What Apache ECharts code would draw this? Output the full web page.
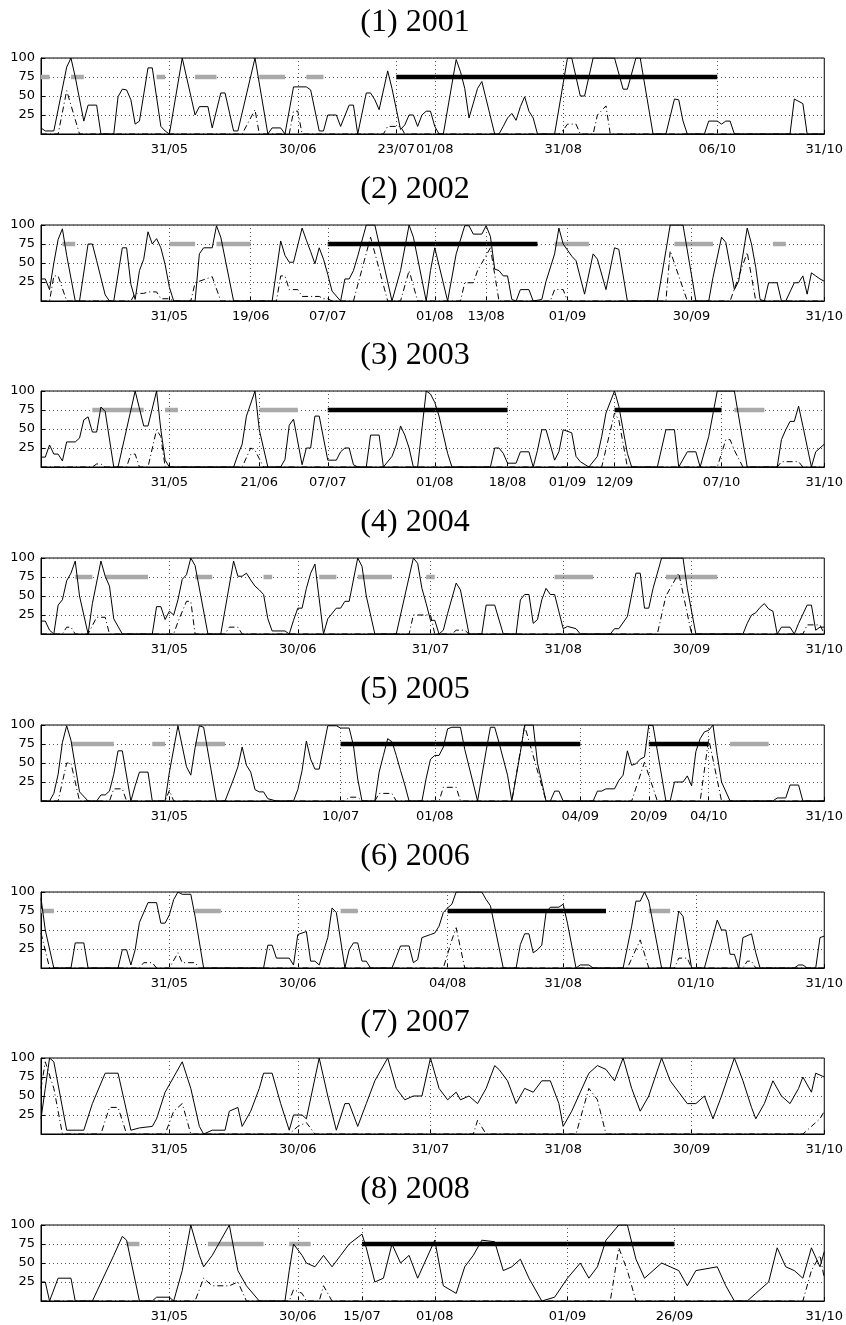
<!DOCTYPE html>
<html>
<head>
<meta charset="utf-8">
<script src="https://cdn.jsdelivr.net/npm/echarts@6/dist/echarts.min.js"></script>
<style>
html,body{margin:0;padding:0;background:#fff;}
#chart{width:846px;height:1325px;}
</style>
</head>
<body>
<div id="chart"></div>
<script>
// ---- data: x = day index counted from 01/05 (0) to 31/10 (183), y = value 0..100 ----
const titles = ['(1) 2001','(2) 2002','(3) 2003','(4) 2004','(5) 2005','(6) 2006','(7) 2007','(8) 2008'];
const barLevel = 75;

const ticks2001 = ['31/05','30/06','23/07','01/08','31/08','06/10','31/10'];
const ticks2002 = ['31/05','19/06','07/07','01/08','13/08','01/09','30/09','31/10'];
const ticks2003 = ['31/05','21/06','07/07','01/08','18/08','01/09','12/09','07/10','31/10'];
const ticks2004 = ['31/05','30/06','31/07','31/08','30/09','31/10'];
const ticks2005 = ['31/05','10/07','01/08','04/09','20/09','04/10','31/10'];
const ticks2006 = ['31/05','30/06','04/08','31/08','01/10','31/10'];
const ticks2007 = ['31/05','30/06','31/07','31/08','30/09','31/10'];
const ticks2008 = ['31/05','30/06','15/07','01/08','01/09','26/09','31/10'];

const gray2001 = [[0,2],[7,10],[27,29],[36,41],[51,57],[62,66]];
const black2001 = [[83,158]];
const gray2002 = [[5,8],[30,36],[41,49],[120,128],[148,157],[171,174]];
const black2002 = [[67,116]];
const gray2003 = [[12,24],[29,32],[51,60],[162,169]];
const black2003 = [[67,109],[134,159]];
const gray2004 = [[8,12],[15,25],[36,40],[52,54],[65,69],[74,82],[90,92],[120,129],[146,158]];
const black2004 = [];
const gray2005 = [[7,17],[26,29],[36,43],[161,170]];
const black2005 = [[70,126],[142,156]];
const gray2006 = [[0,3],[36,42],[70,74],[142,147]];
const black2006 = [[95,132]];
const gray2007 = [];
const black2007 = [];
const gray2008 = [[20,23],[39,52],[58,63]];
const black2008 = [[75,148]];

const solid2001 = [[0,8],[1,4],[3,4],[6,88],[7,100],[8,75],[10,17],[11,38],[13,38],[14,0],[17,0],[18,49],[19,59],[20,58],[21,45],[22,13],[23,17],[25,87],[26,87],[28,10],[29,4],[30,0],[33,100],[36,25],[37,36],[39,36],[40,8],[42,54],[43,54],[45,4],[46,4],[50,100],[53,0],[54,8],[56,8],[57,0],[59,62],[62,62],[63,58],[65,4],[66,4],[67,25],[69,25],[70,10],[72,38],[73,38],[74,0],[76,54],[77,54],[78,45],[79,32],[81,83],[82,60],[84,6],[85,12],[86,25],[87,25],[88,10],[89,25],[90,30],[91,30],[92,10],[93,0],[94,0],[97,98],[98,82],[99,60],[100,21],[102,60],[103,69],[106,0],[107,0],[108,10],[109,21],[110,27],[111,18],[112,36],[113,49],[114,30],[115,21],[116,0],[120,0],[123,100],[124,100],[126,50],[127,50],[129,100],[134,100],[136,59],[137,59],[139,100],[140,100],[143,0],[146,0],[148,46],[149,45],[150,17],[151,0],[155,0],[156,17],[158,17],[159,13],[160,17],[161,17],[162,0],[175,0],[176,46],[178,40],[179,0],[183,0]];
const dash2001 = [[0,0],[4,0],[6,57],[9,0],[47,0],[50,32],[51,0],[58,0],[59,30],[60,30],[61,0],[80,0],[81,10],[84,10],[85,0],[121,0],[122,5],[123,13],[125,13],[126,0],[129,0],[130,25],[132,37],[133,0],[183,0]];

const solid2002 = [[0,29],[1,29],[2,15],[3,50],[4,81],[5,95],[6,60],[8,0],[9,0],[11,75],[12,75],[13,53],[15,8],[16,0],[17,0],[19,70],[20,70],[21,22],[22,2],[23,40],[24,55],[25,91],[26,75],[27,82],[28,70],[29,48],[30,18],[31,0],[36,0],[37,62],[38,70],[40,70],[41,99],[42,84],[45,0],[54,0],[56,79],[57,60],[58,51],[59,51],[61,96],[62,80],[63,65],[64,49],[65,70],[66,55],[67,35],[68,13],[70,0],[71,29],[72,29],[73,40],[74,59],[76,100],[78,100],[80,50],[82,0],[84,40],[86,100],[87,84],[90,0],[91,40],[92,70],[95,0],[97,62],[99,99],[100,99],[101,88],[103,88],[104,99],[105,85],[106,42],[107,40],[108,33],[109,33],[110,2],[111,0],[112,15],[114,15],[115,0],[117,2],[118,26],[120,62],[121,96],[122,75],[124,59],[125,53],[127,9],[129,62],[130,55],[132,15],[134,70],[135,68],[137,0],[144,0],[146,66],[147,100],[150,100],[153,0],[156,0],[157,31],[159,84],[160,77],[162,15],[163,26],[165,96],[166,75],[167,44],[168,2],[169,0],[170,24],[172,24],[173,0],[174,0],[176,24],[177,24],[178,33],[179,9],[180,37],[181,33],[182,29],[183,26]];
const dash2002 = [[0,0],[2,0],[3,33],[4,33],[6,0],[21,0],[22,10],[24,10],[25,12],[27,12],[28,3],[30,3],[31,0],[35,0],[36,24],[40,32],[42,0],[55,0],[56,33],[57,33],[58,15],[60,15],[61,6],[65,6],[66,3],[67,3],[68,0],[73,0],[77,84],[81,0],[84,0],[86,40],[88,0],[98,0],[99,24],[101,24],[102,40],[105,70],[107,0],[119,0],[120,15],[122,15],[123,0],[146,0],[147,66],[151,0],[161,0],[165,64],[167,0],[183,0]];

const solid2003 = [[0,13],[1,13],[2,29],[3,17],[4,17],[5,8],[6,33],[8,33],[9,38],[10,62],[11,66],[12,46],[13,46],[14,79],[15,73],[17,0],[18,0],[22,100],[24,54],[25,54],[27,100],[28,49],[29,9],[30,0],[45,0],[46,16],[47,30],[48,67],[50,100],[51,49],[53,0],[56,0],[57,10],[58,55],[59,63],[61,3],[62,25],[63,25],[64,67],[65,67],[67,9],[69,9],[70,20],[71,25],[72,25],[73,3],[74,0],[76,0],[77,42],[79,42],[80,0],[82,14],[83,29],[84,54],[85,42],[86,25],[87,0],[88,0],[90,100],[91,96],[92,85],[93,67],[95,18],[96,0],[105,0],[106,25],[107,25],[108,18],[109,5],[111,5],[112,20],[114,20],[115,0],[116,22],[117,49],[118,49],[120,9],[121,20],[122,49],[124,45],[125,14],[126,7],[128,0],[130,14],[131,40],[132,71],[134,100],[135,80],[137,18],[138,0],[144,0],[146,49],[148,49],[149,0],[151,20],[153,20],[154,0],[156,40],[158,100],[162,100],[165,0],[172,0],[173,36],[174,49],[175,60],[176,60],[177,80],[178,54],[180,0],[181,20],[182,25],[183,30]];
const dash2003 = [[0,0],[12,0],[13,4],[14,4],[15,0],[20,0],[21,17],[22,17],[23,0],[25,0],[27,49],[28,40],[29,0],[47,0],[49,25],[50,22],[52,0],[131,0],[134,71],[135,62],[137,0],[158,0],[160,36],[161,36],[162,22],[164,0],[172,0],[173,7],[177,7],[178,0],[183,0]];

const solid2004 = [[0,17],[1,17],[2,5],[3,0],[4,38],[5,45],[6,70],[7,80],[8,96],[9,50],[11,0],[12,40],[14,96],[15,76],[16,63],[17,20],[19,0],[26,0],[27,36],[28,36],[29,19],[30,30],[31,25],[32,45],[33,72],[34,78],[35,100],[36,90],[39,0],[42,0],[45,96],[46,76],[47,76],[48,80],[49,71],[50,63],[51,58],[52,52],[53,20],[54,4],[57,4],[58,0],[59,18],[60,34],[61,34],[62,60],[63,80],[64,92],[66,0],[67,20],[69,34],[70,34],[71,43],[72,43],[74,100],[75,89],[76,50],[78,0],[83,0],[87,100],[88,93],[89,60],[90,40],[91,18],[92,18],[93,0],[94,5],[95,27],[97,67],[98,58],[100,0],[103,0],[104,38],[106,38],[108,0],[111,0],[112,45],[113,52],[114,52],[115,14],[116,19],[117,45],[118,60],[119,52],[120,52],[122,7],[123,10],[125,7],[126,0],[133,0],[134,7],[135,7],[137,23],[139,80],[140,80],[141,34],[142,34],[143,60],[144,80],[145,100],[150,100],[151,60],[153,0],[164,0],[165,14],[166,25],[167,28],[168,35],[169,40],[170,33],[171,30],[172,0],[173,9],[175,9],[176,0],[177,14],[179,38],[180,38],[181,5],[182,9],[183,9]];
const dash2004 = [[0,0],[5,0],[6,9],[7,9],[8,0],[11,0],[13,22],[15,22],[16,0],[31,0],[32,16],[34,43],[35,43],[36,0],[43,0],[44,9],[46,9],[47,0],[86,0],[87,25],[91,25],[92,0],[96,0],[97,5],[99,5],[100,0],[144,0],[146,50],[149,80],[152,0],[178,0],[179,12],[182,12],[183,0]];

const solid2005 = [[0,0],[2,0],[3,10],[4,35],[5,77],[6,99],[7,80],[9,12],[11,0],[13,0],[14,8],[15,8],[16,13],[17,35],[18,66],[19,66],[21,0],[22,20],[23,38],[25,38],[26,0],[29,0],[30,38],[32,99],[34,45],[35,34],[36,70],[37,99],[38,97],[41,0],[43,0],[45,29],[46,45],[47,71],[48,47],[49,38],[50,15],[51,12],[52,12],[53,3],[55,0],[59,0],[60,15],[61,40],[62,79],[63,55],[64,42],[65,42],[67,99],[69,99],[70,96],[72,96],[73,73],[74,29],[75,0],[78,0],[79,38],[80,60],[81,82],[82,78],[83,60],[84,40],[85,21],[86,0],[89,0],[90,30],[91,55],[92,60],[93,60],[94,71],[95,95],[96,97],[98,97],[99,68],[102,0],[104,66],[105,97],[106,97],[107,77],[109,34],[110,0],[112,64],[113,100],[115,100],[116,50],[118,0],[119,0],[120,13],[121,13],[122,0],[129,0],[130,13],[131,13],[132,16],[134,16],[135,27],[136,34],[137,66],[138,47],[139,49],[140,55],[141,58],[142,100],[143,99],[146,0],[147,0],[148,25],[150,25],[151,33],[152,20],[153,65],[154,82],[155,91],[156,93],[157,100],[158,60],[159,25],[161,0],[171,0],[172,4],[174,4],[175,21],[177,21],[178,0],[183,0]];
const dash2005 = [[0,0],[4,0],[6,50],[7,50],[9,0],[16,0],[17,16],[19,16],[20,0],[29,0],[30,14],[31,0],[71,0],[72,5],[74,5],[75,0],[78,0],[79,10],[82,10],[83,0],[93,0],[94,18],[97,18],[98,0],[110,0],[113,99],[118,0],[138,0],[141,51],[144,0],[154,0],[156,82],[159,0],[183,0]];

const solid2006 = [[0,92],[1,50],[3,0],[7,0],[8,33],[10,33],[11,0],[18,0],[19,24],[20,24],[21,4],[22,24],[23,60],[25,86],[27,86],[28,59],[29,59],[30,70],[31,90],[32,100],[33,97],[35,97],[36,68],[38,0],[52,0],[53,30],[54,30],[55,13],[58,13],[59,4],[60,44],[62,48],[63,9],[64,9],[65,4],[67,40],[68,79],[69,73],[71,0],[72,24],[73,33],[74,33],[75,9],[76,9],[77,0],[82,0],[84,29],[86,29],[87,7],[88,11],[89,40],[91,44],[92,46],[93,55],[94,73],[95,79],[96,84],[97,100],[103,100],[104,90],[105,82],[108,0],[111,0],[112,31],[113,45],[114,45],[115,20],[116,24],[117,30],[118,73],[119,80],[121,80],[122,84],[123,59],[125,0],[126,4],[128,4],[129,0],[136,0],[138,55],[139,88],[140,88],[141,100],[142,88],[145,0],[147,0],[149,75],[150,68],[152,0],[155,0],[157,42],[158,63],[159,50],[160,50],[161,18],[162,18],[163,0],[164,40],[166,45],[167,20],[168,0],[176,0],[177,4],[178,4],[179,0],[181,0],[182,40],[183,42]];
const dash2006 = [[0,46],[2,0],[23,0],[24,7],[26,7],[27,0],[30,0],[32,20],[33,7],[36,7],[37,0],[94,0],[96,37],[97,53],[99,0],[137,0],[140,37],[142,0],[148,0],[149,13],[151,13],[152,0],[164,0],[165,9],[166,9],[167,0],[183,0]];

const solid2007 = [[0,20],[1,60],[2,100],[3,95],[6,5],[10,5],[12,40],[15,80],[18,80],[20,30],[21,5],[23,8],[26,10],[27,20],[29,55],[31,75],[33,95],[35,60],[37,10],[38,0],[40,5],[43,5],[44,30],[46,35],[47,10],[49,30],[51,60],[52,80],[54,80],[56,40],[58,5],[59,25],[61,25],[62,20],[65,100],[67,50],[69,5],[71,40],[72,40],[74,10],[76,40],[78,70],[81,100],[83,60],[85,45],[87,50],[89,50],[91,100],[93,60],[95,45],[97,55],[98,45],[100,50],[102,40],[104,60],[106,90],[107,85],[109,70],[111,40],[113,60],[115,55],[117,70],[119,70],[121,40],[122,10],[124,30],[126,55],[128,80],[130,90],[132,85],[134,70],[136,100],[138,60],[140,30],[142,50],[145,100],[147,70],[149,55],[151,40],[153,40],[155,50],[157,20],[159,50],[162,100],[164,70],[166,35],[167,20],[169,40],[171,70],[173,50],[175,40],[177,60],[178,75],[180,55],[181,80],[183,75]];
const dash2007 = [[0,60],[1,95],[3,60],[5,0],[14,0],[16,35],[18,35],[20,0],[29,0],[31,30],[33,40],[35,0],[58,0],[60,10],[62,15],[64,0],[101,0],[102,18],[104,0],[125,0],[127,40],[128,60],[130,45],[132,0],[178,0],[180,10],[182,20],[183,30]];

const solid2008 = [[0,25],[1,25],[2,0],[4,30],[7,30],[8,0],[12,0],[17,60],[19,85],[20,80],[23,0],[26,0],[27,5],[30,5],[31,0],[33,40],[35,100],[37,60],[38,45],[40,60],[44,100],[46,40],[48,20],[51,0],[57,0],[58,40],[59,75],[61,60],[62,50],[64,45],[66,60],[68,45],[70,60],[72,75],[75,88],[76,70],[78,25],[80,30],[82,75],[84,50],[86,60],[88,30],[92,80],[94,20],[97,10],[99,45],[101,60],[103,80],[106,78],[108,40],[110,45],[112,55],[114,30],[117,0],[120,5],[123,30],[126,50],[128,30],[130,45],[132,80],[135,100],[137,100],[139,55],[141,30],[143,40],[145,50],[147,45],[149,40],[151,20],[153,40],[158,45],[160,20],[162,0],[165,0],[167,10],[170,25],[172,70],[174,45],[176,40],[178,30],[180,70],[182,45],[183,65]];
const dash2008 = [[0,0],[36,0],[38,30],[40,20],[44,20],[46,25],[48,0],[58,0],[59,15],[61,10],[62,0],[65,0],[66,20],[68,0],[133,0],[135,70],[137,40],[139,0],[178,0],[180,40],[182,60],[183,30]];

const solidAll = [solid2001,solid2002,solid2003,solid2004,solid2005,solid2006,solid2007,solid2008];
const dashAll = [dash2001,dash2002,dash2003,dash2004,dash2005,dash2006,dash2007,dash2008];
const grayAll = [gray2001,gray2002,gray2003,gray2004,gray2005,gray2006,gray2007,gray2008];
const blackAll = [black2001,black2002,black2003,black2004,black2005,black2006,black2007,black2008];
const ticksAll = [ticks2001,ticks2002,ticks2003,ticks2004,ticks2005,ticks2006,ticks2007,ticks2008];

// ---- build chart ----
const monthStart = {5:0, 6:31, 7:61, 8:92, 9:123, 10:153};
function dayIndex(lbl){ const p = lbl.split('/').map(Number); return monthStart[p[1]] + p[0] - 1; }

const PANEL_TOP = 58, PANEL_STEP = 166.7, PANEL_H = 76, PANEL_LEFT = 41, PANEL_W = 784;
const FONT = 'DejaVu Sans';
const dotted = {type:[1,3], color:'#555', width:1};

const grids = [], xAxes = [], yAxes = [], series = [], graphics = [];

function barRender(color){
  return function(params, api){
    const a = api.coord([api.value(0), api.value(2)]);
    const b = api.coord([api.value(1), api.value(2)]);
    return {type:'line', shape:{x1:a[0], y1:a[1], x2:b[0], y2:b[1]},
            style:{stroke:color, lineWidth:4.5, lineCap:'butt'}};
  };
}

for (let i = 0; i < 8; i++) {
  const top = Math.round(PANEL_TOP + i * PANEL_STEP);
  const tickIdx = ticksAll[i].map(dayIndex);
  const labelMap = {};
  ticksAll[i].forEach((l, k) => { labelMap[tickIdx[k]] = l; });

  grids.push({left:PANEL_LEFT, width:PANEL_W, top:top, height:PANEL_H, show:true,
              borderColor:'#000', borderWidth:1, backgroundColor:'#fff', containLabel:false});
  xAxes.push({type:'value', gridIndex:i, min:0, max:183,
    axisLine:{show:true, onZero:false, lineStyle:{color:'#000', width:1}},
    axisTick:{show:true, inside:true, length:4, customValues:tickIdx, lineStyle:{color:'#000'}},
    axisLabel:{show:true, customValues:tickIdx, formatter:(v)=> labelMap[v] !== undefined ? labelMap[v] : '',
               fontFamily:FONT, fontSize:13, color:'#000', margin:9, hideOverlap:false},
    splitLine:{show:false}});
  yAxes.push({type:'value', gridIndex:i, min:0, max:100, interval:25,
    axisLine:{show:true, lineStyle:{color:'#000', width:1}},
    axisTick:{show:true, inside:true, length:4, lineStyle:{color:'#000'}},
    axisLabel:{showMinLabel:false, fontFamily:FONT, fontSize:13, color:'#000', margin:6},
    splitLine:{show:true, lineStyle:dotted}});

  series.push({type:'custom', xAxisIndex:i, yAxisIndex:i, renderItem:barRender('#a9a9a9'),
    data:grayAll[i].map(s => [s[0], s[1], barLevel]), encode:{x:[0,1], y:2}, z:2, silent:true});
  series.push({type:'custom', xAxisIndex:i, yAxisIndex:i, renderItem:barRender('#000'),
    data:blackAll[i].map(s => [s[0], s[1], barLevel]), encode:{x:[0,1], y:2}, z:3, silent:true});
  series.push({type:'line', xAxisIndex:i, yAxisIndex:i, data:dashAll[i], symbol:'none',
    lineStyle:{color:'#000', width:1, type:[6,3,1,3]}, z:4, silent:true});
  series.push({type:'line', xAxisIndex:i, yAxisIndex:i, data:solidAll[i], symbol:'none',
    lineStyle:{color:'#000', width:1}, z:5, silent:true,
    markLine:{silent:true, symbol:'none', label:{show:false}, lineStyle:dotted, animation:false,
      data: tickIdx.filter(t => t > 0 && t < 183).map(t => ({xAxis:t}))}});

  graphics.push({type:'text', x:415, y:top - 35, style:{text:titles[i], font:'32px "Liberation Serif"',
    fill:'#000', textAlign:'center', textVerticalAlign:'middle'}});
}

const chart = echarts.init(document.getElementById('chart'), null, {renderer:'canvas'});
chart.setOption({animation:false, backgroundColor:'#fff', grid:grids, xAxis:xAxes, yAxis:yAxes,
  series:series, graphic:graphics});
</script>
</body>
</html>
